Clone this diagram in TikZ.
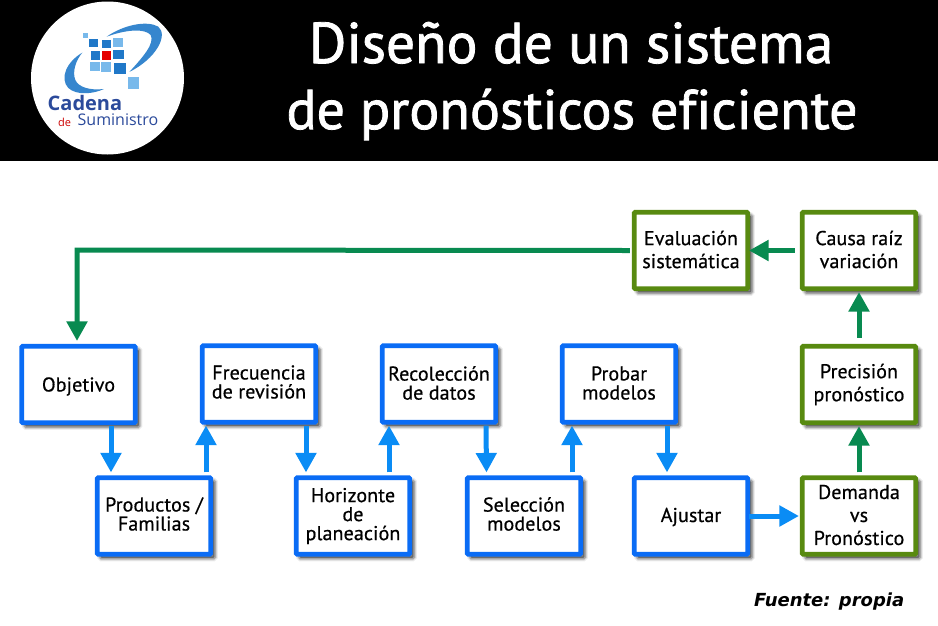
\documentclass[tikz,border=0pt]{standalone}
\usepackage{fontspec}
\setmainfont{PT Sans}[FakeBold=0.6,Ligatures=NoCommon,LetterSpace=0.6]
\newfontfamily\titlefont{PT Sans}[FakeBold=1.4,Ligatures=NoCommon]
\newfontfamily\footfont{DejaVu Sans}
\newfontfamily\logofont{Open Sans}
\usetikzlibrary{arrows.meta}
\definecolor{boxblue}{RGB}{10,108,245}
\definecolor{boxgreen}{RGB}{88,138,16}
\definecolor{arrblue}{RGB}{10,140,245}
\definecolor{arrgreen}{RGB}{8,138,80}
\definecolor{logoblue}{RGB}{43,74,155}
\definecolor{sqblue}{RGB}{32,120,200}
\definecolor{sqlight}{RGB}{120,185,235}
\newcommand{\padded}[3]{\parbox{110pt}{\centering\vspace*{#1}#3\par\vspace*{#2}}}
\tikzset{
  softshadow/.style={
    preaction={draw=black,fill=black,line width=7pt,opacity=.07,transform canvas={shift={(3.5pt,-3.5pt)}}},
    preaction={draw=black,fill=black,line width=5pt,opacity=.12,transform canvas={shift={(3.5pt,-3.5pt)}}},
    preaction={draw=black,fill=black,line width=3pt,opacity=.2,transform canvas={shift={(3.5pt,-3.5pt)}}}},
  flowbox/.style={rectangle,softshadow,fill=white,line width=4.6pt,minimum width=113.5pt,minimum height=76.5pt,
    inner sep=0pt,align=center,text=black,rounded corners=0.8pt},
  bluebox/.style={flowbox,draw=boxblue},
  greenbox/.style={flowbox,draw=boxgreen},
  tight/.style={font=\fontsize{20}{19}\selectfont},
  loose/.style={font=\fontsize{20}{23}\selectfont},
  flowarrow/.style={line width=5pt,-{Triangle[length=19.5pt,width=20pt]}},
  barrow/.style={flowarrow,draw=arrblue},
  garrow/.style={flowarrow,draw=arrgreen},
  lsq/.style={fill=sqblue},
  lsqpale/.style={fill=sqlight}
}
\begin{document}
\begin{tikzpicture}[x=1pt,y=-1pt]
\useasboundingbox (0,0) rectangle (938,625);
\fill[white] (0,0) rectangle (938,625);
\fill[black] (0,0) rectangle (938,160.5);
% logo
\fill[white] (107.5,78) circle[radius=76.5];
\begin{scope}[x=0.3333pt,y=-0.3333pt]
\fill[sqblue!90!white] (320,110) .. controls (370,75) and (440,60) .. (475,80) .. controls (505,105) and (470,175) .. (388,216) .. controls (430,170) and (465,130) .. (452,105) .. controls (435,85) and (380,88) .. (320,110) -- cycle;
\fill[sqblue!90!white] (247,158) .. controls (200,185) and (178,235) .. (205,264) .. controls (230,287) and (280,282) .. (312,267) .. controls (270,272) and (236,262) .. (226,240) .. controls (216,215) and (228,180) .. (247,158) -- cycle;
\fill[sqlight] (249,99) rectangle (263,115);
\fill[lsq] (268,117) rectangle (295,141);
\fill[lsq] (305,120) rectangle (332,145);
\fill[lsqpale] (338,114) rectangle (368,142);
\fill[lsq] (273,152) rectangle (300,180);
\fill[red!90!black] (307,153) rectangle (333,179);
\fill[lsq] (340,150) rectangle (372,178);
\fill[lsqpale] (270,187) rectangle (300,213);
\fill[lsqpale] (303,187) rectangle (333,217);
\fill[lsq] (343,190) rectangle (377,222);
\fill[sqlight] (384,231) rectangle (418,266);
\end{scope}
\node[inner sep=0pt,anchor=base west,text=logoblue,font=\logofont\bfseries\fontsize{20}{20}\selectfont] (cadena) at (47.5,110) {Cadena};
\node[inner sep=0pt,anchor=base west,text=red!80!black,font=\logofont\fontsize{11}{11}\selectfont] (dett) at (58,126) {de};
\node[inner sep=0pt,anchor=base west,text=logoblue,font=\logofont\fontsize{16}{16}\selectfont] (sumin) at (77.5,125.5) {Suministro};
% title
\node[inner sep=0pt,anchor=base,text=white,font=\titlefont\fontsize{57.5}{57}\selectfont] (title1) at (571,63) {Diseño de un sistema};
\node[inner sep=0pt,anchor=base,text=white,font=\titlefont\fontsize{56}{56}\selectfont] (title2) at (572,129) {de pronósticos eficiente};
% boxes
\node[bluebox,loose] (obj) at (78.5,384.5) {\padded{4pt}{0pt}{Objetivo}};
\node[bluebox,tight] (frec) at (259,384) {\padded{0pt}{4pt}{Frecuencia\\de revisión}};
\node[bluebox,tight] (reco) at (439,384) {\padded{0pt}{2pt}{Recolección\\de datos}};
\node[bluebox,tight] (prob) at (619,384) {\padded{0pt}{2pt}{Probar\\modelos}};
\node[bluebox,tight] (prod) at (154,516) {\padded{0pt}{4pt}{Productos /\\Familias}};
\node[bluebox,tight] (hori) at (353,516) {\padded{0pt}{0pt}{Horizonte\\de\\planeación}};
\node[bluebox,tight] (sele) at (524,516) {\padded{0pt}{4pt}{Selección\\modelos}};
\node[bluebox,loose] (ajus) at (691,516) {\padded{2pt}{0pt}{Ajustar}};
\node[greenbox,loose] (dema) at (859,516) {\padded{0pt}{2pt}{Demanda\\vs\\Pronóstico}};
\node[greenbox,loose] (prec) at (859,384.5) {\padded{0pt}{0pt}{Precisión\\pronóstico}};
\node[greenbox,loose] (caus) at (859,250.5) {\padded{0pt}{2pt}{Causa raíz\\variación}};
\node[greenbox,loose] (eval) at (691,250.5) {\padded{0pt}{2pt}{Evaluación\\sistemática}};
% connectors
\draw[barrow] ([xshift=32.5pt,yshift=-1pt]obj.south) -- ([xshift=-43pt,yshift=3pt]prod.north);
\draw[barrow] ([xshift=52pt,yshift=3pt]prod.north) -- ([xshift=-53pt,yshift=-1pt]frec.south);
\draw[barrow] ([xshift=47pt,yshift=-1pt]frec.south) -- ([xshift=-47pt,yshift=3pt]hori.north);
\draw[barrow] ([xshift=36pt,yshift=3pt]hori.north) -- ([xshift=-50pt,yshift=-1pt]reco.south);
\draw[barrow] ([xshift=47pt,yshift=-1pt]reco.south) -- ([xshift=-37.5pt,yshift=3pt]sele.north);
\draw[barrow] ([xshift=48pt,yshift=3pt]sele.north) -- ([xshift=-47pt,yshift=-1pt]prob.south);
\draw[barrow] ([xshift=48pt,yshift=-1pt]prob.south) -- ([xshift=-24pt,yshift=3pt]ajus.north);
\draw[barrow] ([xshift=-1pt]ajus.east) -- ([xshift=-1pt]dema.west);
\draw[garrow] ([yshift=3pt]dema.north) -- ([yshift=-1pt]prec.south);
\draw[garrow] ([yshift=6pt]prec.north) -- ([yshift=-1pt]caus.south);
\draw[garrow] ([xshift=-5pt]caus.west) -- ([xshift=-1pt]eval.east);
\draw[garrow] ([xshift=-2pt]eval.west) -- (77,250) -- ([xshift=-1.5pt,yshift=3pt]obj.north);
% source
\node[inner sep=0pt,anchor=base west,font=\footfont\bfseries\itshape\fontsize{18}{18}\selectfont] (fuente) at (754,606) {Fuente: propia};
\end{tikzpicture}
\end{document}
